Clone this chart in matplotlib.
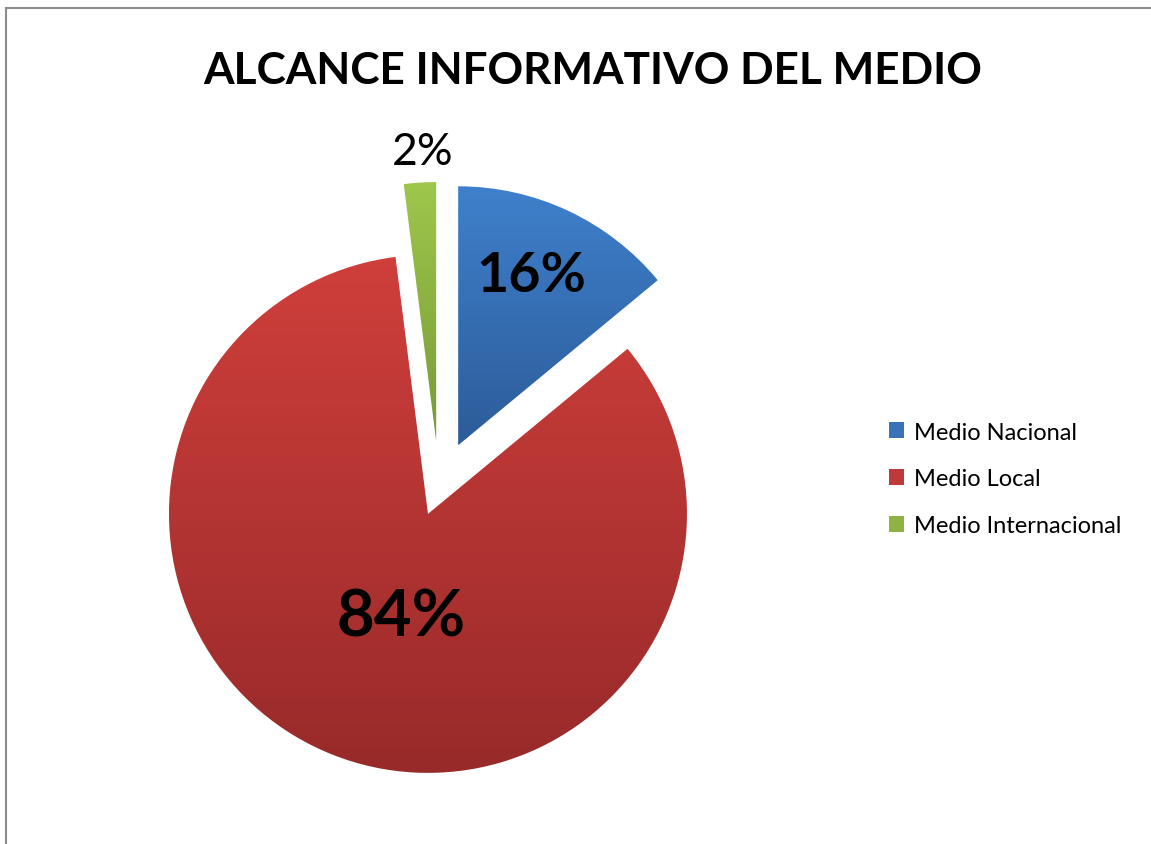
import numpy as np
import matplotlib
matplotlib.use("Agg")
import matplotlib.pyplot as plt
from matplotlib.colors import LinearSegmentedColormap
from matplotlib.patches import Patch
from matplotlib.lines import Line2D

plt.rcParams['font.family'] = ['Lato', 'DejaVu Sans']

# data
categories = ['Medio Nacional', 'Medio Local', 'Medio Internacional']
shares = [14, 84, 2]
pct_labels = ['16%', '84%', '2%']

# styling
top_colors = ['#3f80cc', '#cf3f3b', '#9ec74c']
bottom_colors = ['#2c5c99', '#982a2a', '#779a38']
legend_colors = ['#3a72b8', '#c0393a', '#8db443']
label_dist = [0.715, 0.41, 1.12]
label_turn = [2, 7, -1]   # degrees, nudges label off the mid angle
label_size = [40, 47, 32]
label_weight = ['bold', 'bold', 'normal']

W, H = 1151, 845
fig = plt.figure(figsize=(W / 100, H / 100), dpi=100)
ax = fig.add_axes([0, 0, 1, 1])

radius = 259
centre = (439, 358)
explode = [45, 30, 45]
wedges, _ = ax.pie(shares, explode=explode, radius=radius, center=centre,
                   startangle=90, counterclock=False, frame=True)

# vertical gradient inside each slice
grad = np.linspace(0, 1, 256).reshape(-1, 1)
for w, c0, c1 in zip(wedges, top_colors, bottom_colors):
    w.set_facecolor('none')
    w.set_edgecolor('none')
    bb = w.get_path().get_extents(w.get_patch_transform())
    cmap = LinearSegmentedColormap.from_list('g', [c1, c0])
    im = ax.imshow(grad, cmap=cmap, extent=[bb.x0, bb.x1, bb.y0, bb.y1],
                   origin='lower', aspect='auto', zorder=1)
    im.set_clip_path(w)

# percentage labels
for w, txt, d, turn, fs, fw in zip(wedges, pct_labels, label_dist, label_turn,
                                   label_size, label_weight):
    th = np.deg2rad((w.theta1 + w.theta2) / 2 + turn)
    cx, cy = w.center
    ax.text(cx + d * w.r * np.cos(th), cy + d * w.r * np.sin(th), txt,
            ha='center', va='center', fontsize=fs, fontweight=fw, color='black', zorder=3)

ax.set_xlim(0, W)
ax.set_ylim(0, H)
ax.set_aspect('equal')
ax.axis('off')

fig.text(593 / W, 1 - 71 / H, 'ALCANCE INFORMATIVO DEL MEDIO',
         ha='center', va='center', fontsize=31.8, fontweight='bold')

handles = [Patch(facecolor=c, edgecolor='none') for c in legend_colors]
fig.legend(handles, categories, loc='center left', bbox_to_anchor=(889 / W, 1 - 480 / H),
           frameon=False, fontsize=17, handlelength=0.65, handleheight=0.65,
           handletextpad=0.4, labelspacing=1.1, borderaxespad=0, borderpad=0)

# outer chart border (left and top visible)
fig.add_artist(Line2D([6 / W, 6 / W], [0, 1 - 9 / H], transform=fig.transFigure,
                      color='#8c8c8c', lw=1.5))
fig.add_artist(Line2D([6 / W, 1], [1 - 9 / H, 1 - 9 / H], transform=fig.transFigure,
                      color='#8c8c8c', lw=1.5))

fig.savefig('out.png', dpi=100)
